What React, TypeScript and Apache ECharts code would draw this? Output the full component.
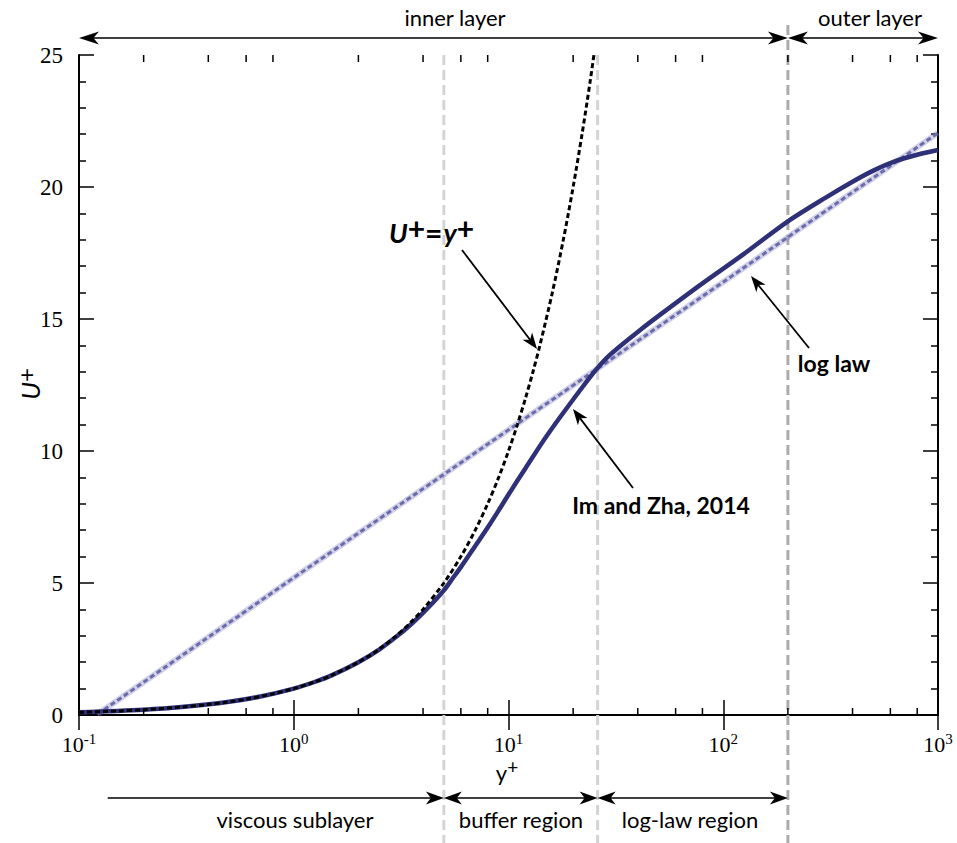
import React, { useEffect, useRef } from "react";
import * as echarts from "echarts";

// ---- data ----
const minorTickValues = [0.2, 0.4, 0.6, 0.8, 2, 4, 6, 8, 20, 40, 60, 80, 200, 400, 600, 800];
const regionBounds = [5, 26, 200]; // y+ positions of the vertical dashed lines
const viscousStart = 0.136;

const linearY = [0.1, 0.15, 0.2, 0.3, 0.4, 0.5, 0.6, 0.8, 1, 1.25, 1.5, 2, 2.5, 3, 3.5, 4, 5, 6, 7, 8, 9, 10, 11, 12, 13, 14, 16, 18, 20, 22, 24, 26];
const linearU = [0.1, 0.15, 0.2, 0.3, 0.4, 0.5, 0.6, 0.8, 1, 1.25, 1.5, 2, 2.5, 3, 3.5, 4, 5, 6, 7, 8, 9, 10, 11, 12, 13, 14, 16, 18, 20, 22, 24, 26];

const logLawY = [0.122, 1, 10, 100, 1000];
const logLawU = [0.03, 5.2, 10.8, 16.4, 22.05];

const imZhaY = [0.1, 0.2, 0.3, 0.5, 0.7, 1, 1.25, 1.5, 2, 2.5, 3, 3.5, 4, 4.5, 5, 5.5, 6, 7, 8, 9, 10, 12, 15, 20, 25.7, 30, 42, 50, 80, 124, 200, 300, 400, 500, 620, 800, 1000];
const imZhaU = [0.1, 0.2, 0.3, 0.5, 0.7, 1, 1.25, 1.5, 2, 2.48, 2.96, 3.42, 3.87, 4.3, 4.72, 5.18, 5.6, 6.4, 7.1, 7.75, 8.35, 9.35, 10.55, 11.95, 13.1, 13.68, 14.65, 15.12, 16.35, 17.45, 18.7, 19.6, 20.2, 20.62, 20.95, 21.22, 21.4];

const SANS = "Lato, 'Open Sans', sans-serif";
const SERIF = "'Liberation Serif', 'DejaVu Serif', serif";

const zip = (a: number[], b: number[]) => a.map((v, i) => [v, b[i]]);

function arrowHead(tx: number, ty: number, dx: number, dy: number, L: number, W: number) {
  const len = Math.hypot(dx, dy);
  const ux = dx / len, uy = dy / len;
  const px = -uy, py = ux;
  const bx = tx - ux * L, by = ty - uy * L;
  const nx = tx - ux * L * 0.72, ny = ty - uy * L * 0.72;
  return {
    type: "polygon",
    z: 100,
    silent: true,
    shape: { points: [[tx, ty], [bx + px * W, by + py * W], [nx, ny], [bx - px * W, by - py * W]] },
    style: { fill: "#000" },
  };
}

function arrow(x1: number, y1: number, x2: number, y2: number, startHead: boolean, endHead: boolean, L: number, W: number, lw: number) {
  const els: any[] = [];
  const dx = x2 - x1, dy = y2 - y1;
  const len = Math.hypot(dx, dy);
  const ux = dx / len, uy = dy / len;
  const sx = startHead ? x1 + ux * L * 0.7 : x1;
  const sy = startHead ? y1 + uy * L * 0.7 : y1;
  const ex = endHead ? x2 - ux * L * 0.7 : x2;
  const ey = endHead ? y2 - uy * L * 0.7 : y2;
  els.push({ type: "line", z: 100, silent: true, shape: { x1: sx, y1: sy, x2: ex, y2: ey }, style: { stroke: "#000", lineWidth: lw } });
  if (endHead) els.push(arrowHead(x2, y2, dx, dy, L, W));
  if (startHead) els.push(arrowHead(x1, y1, -dx, -dy, L, W));
  return els;
}

function txt(text: string, x: number, y: number, size: number, opts: any = {}) {
  return {
    type: "text",
    z: 100,
    silent: true,
    x,
    y,
    rotation: opts.rotation || 0,
    style: {
      text,
      fill: "#000",
      fontSize: size,
      fontFamily: opts.fontFamily || SANS,
      fontWeight: opts.fontWeight || "normal",
      fontStyle: opts.fontStyle || "normal",
      textAlign: opts.align || "center",
      textVerticalAlign: "middle",
      rich: opts.rich,
    },
  };
}

export default function App() {
  const ref = useRef<HTMLDivElement>(null);

  useEffect(() => {
    if (!ref.current) return;
    const chart = echarts.init(ref.current, undefined, { renderer: "svg" });

    const axisLine = { show: true, lineStyle: { color: "#000", width: 2 } };
    const xCommon = {
      type: "log",
      logBase: 10,
      min: 0.1,
      max: 1000,
      axisLine,
      splitLine: { show: false },
      axisTick: { show: true, inside: true, length: 15, lineStyle: { color: "#000", width: 1.5 } },
    };
    const yCommon = {
      type: "value",
      min: 0,
      max: 25,
      interval: 5,
      axisLine,
      splitLine: { show: false },
      axisTick: { show: true, inside: true, length: 15, lineStyle: { color: "#000", width: 1.5 } },
      minorTick: { show: true, splitNumber: 5, length: 7, lineStyle: { color: "#000", width: 1.5 } },
    };

    chart.setOption({
      animation: false,
      grid: { left: 79, right: 19, top: 55, bottom: 128, containLabel: false },
      xAxis: [
        {
          ...xCommon,
          position: "bottom",
          axisLabel: {
            margin: 16,
            formatter: (v: number) => `{b|10}{s|${Math.round(Math.log10(v))}}`,
            rich: {
              b: { fontFamily: SERIF, fontSize: 22, color: "#000" },
              s: { fontFamily: SERIF, fontSize: 15, color: "#000", padding: [0, 0, 11, 0] },
            },
          },
        },
        { ...xCommon, position: "top", axisLabel: { show: false } },
      ],
      yAxis: [
        {
          ...yCommon,
          position: "left",
          axisLabel: { margin: 16, fontFamily: SERIF, fontSize: 23, color: "#000" },
        },
        { ...yCommon, position: "right", axisLabel: { show: false } },
      ],
      series: [
        {
          type: "line",
          data: zip(logLawY, logLawU),
          symbol: "none",
          lineStyle: { color: "rgba(120,120,190,0.35)", width: 6 },
          z: 2,
          silent: true,
        },
        {
          type: "line",
          name: "log law",
          data: zip(logLawY, logLawU),
          symbol: "none",
          lineStyle: { color: "#6c6caa", width: 3, type: [5, 3] },
          z: 3,
          silent: true,
        },
        {
          type: "line",
          name: "Im and Zha, 2014",
          data: zip(imZhaY, imZhaU),
          symbol: "none",
          smooth: 0.3,
          lineStyle: { color: "#2e3078", width: 4.5 },
          z: 4,
          silent: true,
        },
        {
          type: "line",
          name: "U+=y+",
          data: zip(linearY, linearU),
          symbol: "none",
          smooth: 0.3,
          lineStyle: { color: "#000", width: 3, type: [5, 3] },
          z: 5,
          silent: true,
        },
        {
          type: "custom",
          silent: true,
          clip: false,
          z: 6,
          data: minorTickValues.map((v) => [v, 0]),
          renderItem: (params: any, api: any) => {
            const x = api.coord([api.value(0), 0])[0];
            const cs = params.coordSys;
            const st = { stroke: "#000", lineWidth: 1.5 };
            return {
              type: "group",
              children: [
                { type: "line", shape: { x1: x, y1: cs.y + cs.height, x2: x, y2: cs.y + cs.height - 7 }, style: st },
                { type: "line", shape: { x1: x, y1: cs.y, x2: x, y2: cs.y + 7 }, style: st },
              ],
            };
          },
        },
      ],
    });

    const px = (v: number) => chart.convertToPixel({ xAxisIndex: 0 }, v) as number;
    const py = (v: number) => chart.convertToPixel({ yAxisIndex: 0 }, v) as number;
    const xL = px(0.1), xR = px(1000);
    const yTop = py(25);
    const xB = regionBounds.map(px);
    const H = 843;

    const g: any[] = [];
    // vertical dashed region lines
    const vColors = ["#d4d4d4", "#d4d4d4", "#ababab"];
    const vTops = [yTop, yTop, 25];
    xB.forEach((x, i) => {
      g.push({
        type: "line",
        z: 1,
        silent: true,
        shape: { x1: x, y1: vTops[i], x2: x, y2: H },
        style: { stroke: vColors[i], lineWidth: 3, lineDash: [10, 5] },
      });
    });

    // top arrows
    const yTopArrow = 38;
    g.push(...arrow(xL, yTopArrow, xB[2], yTopArrow, true, true, 20, 6.5, 1.5));
    g.push(...arrow(xB[2], yTopArrow, xR, yTopArrow, true, true, 20, 6.5, 1.5));
    g.push(txt("inner layer", 455, 17, 22));
    g.push(txt("outer layer", 870, 17, 22));

    // bottom arrows
    const yBotArrow = 798;
    g.push(...arrow(px(viscousStart), yBotArrow, xB[0], yBotArrow, false, true, 18, 6.5, 1.5));
    g.push(...arrow(xB[0], yBotArrow, xB[1], yBotArrow, true, true, 18, 6.5, 1.5));
    g.push(...arrow(xB[1], yBotArrow, xB[2], yBotArrow, true, true, 18, 6.5, 1.5));
    g.push(txt("viscous sublayer", 295, 819, 22));
    g.push(txt("buffer region", 521, 819, 22));
    g.push(txt("log-law region", 690, 819, 22));

    // axis titles
    g.push(
      txt("{a|y}{p|+}", 507, 772, 20, {
        rich: {
          a: { fontFamily: SANS, fontSize: 22, color: "#000" },
          p: { fontFamily: SANS, fontSize: 19, color: "#000", padding: [0, 0, 12, 0] },
        },
      })
    );
    g.push(
      txt("{a|U}{p|+}", 30, 384, 24, {
        rotation: Math.PI / 2,
        rich: {
          a: { fontFamily: SANS, fontSize: 26, fontStyle: "italic", color: "#000" },
          p: { fontFamily: SANS, fontSize: 24, color: "#000", padding: [0, 0, 10, 0] },
        },
      })
    );

    // curve annotations
    g.push(
      txt("{a|U}{p|+}{e|=}{a|y}{p|+}", 389, 232, 26, {
        align: "left",
        rich: {
          a: { fontFamily: SANS, fontSize: 27, fontWeight: "bold", fontStyle: "italic", color: "#000" },
          e: { fontFamily: SANS, fontSize: 30, fontWeight: "bold", color: "#000", padding: [0, 1, 0, 0] },
          p: { fontFamily: SANS, fontSize: 30, fontWeight: "bold", color: "#000", padding: [0, 0, 8, 0] },
        },
      })
    );
    g.push(...arrow(462, 250, 537, 349, false, true, 16, 6, 1.8));

    g.push(txt("log law", 834, 363, 23, { fontWeight: "bold" }));
    g.push(...arrow(809, 348, 751, 276, false, true, 16, 6, 1.8));

    g.push(txt("Im and Zha, 2014", 661, 505, 23, { fontWeight: "bold" }));
    g.push(...arrow(633, 488, 573, 409, false, true, 16, 6, 1.8));

    chart.setOption({ graphic: g });

    return () => chart.dispose();
  }, []);

  return (
    <div
      ref={ref}
      style={{ position: "fixed", left: 0, top: 0, width: 957, height: 843, background: "#fff" }}
    />
  );
}
